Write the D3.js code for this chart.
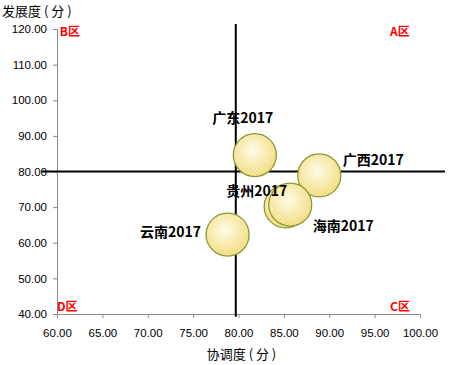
<!DOCTYPE html>
<html>
<head>
<meta charset="utf-8">
<script src="https://cdn.jsdelivr.net/npm/d3@7"></script>
<style>
  body { margin: 0; background: #fff; }
  text { font-family: "Noto Sans CJK SC", "Liberation Sans", sans-serif; }
</style>
</head>
<body>
<div id="chart-area"></div>
<script>
// data
const provinces = ['广东2017', '广西2017', '贵州2017', '海南2017', '云南2017'];
const coord = [81.8, 88.9, 85.2, 85.7, 78.8];     // 协调度
const develop = [84.6, 78.9, 70.2, 70.7, 62.3];   // 发展度
const xTicks = [60, 65, 70, 75, 80, 85, 90, 95, 100];
const yTicks = [40, 50, 60, 70, 80, 90, 100, 110, 120];
const zones = ['A区', 'B区', 'C区', 'D区'];
const crossX = 79.7, crossY = 80;

const margin = {left: 57, right: 33, top: 29, bottom: 51};
const width = 453 - margin.left - margin.right,
    height = 365 - margin.top - margin.bottom;

const svg = d3.select('#chart-area')
    .append('svg')
    .attr('width', 453)
    .attr('height', 365);

const defs = svg.append('defs');
const grad = defs.append('radialGradient').attr('id', 'bub')
    .attr('cx', '45%').attr('cy', '40%').attr('r', '60%');
grad.append('stop').attr('offset', '0%').attr('stop-color', '#fffbe4');
grad.append('stop').attr('offset', '100%').attr('stop-color', '#f2da78');

const pat = defs.append('pattern').attr('id', 'hatch')
    .attr('patternUnits', 'userSpaceOnUse')
    .attr('width', 3).attr('height', 3)
    .attr('patternTransform', 'rotate(45)');
pat.append('line').attr('x1', 0).attr('y1', 0).attr('x2', 0).attr('y2', 3)
    .attr('stroke', '#ffffff').attr('stroke-width', 1).attr('opacity', 0.55);

const g = svg.append('g')
    .attr('transform', 'translate(' + margin.left + ', ' + margin.top + ')');

const x = d3.scaleLinear().domain([60, 100]).range([0, width]);
const y = d3.scaleLinear().domain([40, 120]).range([height, 0]);

const xAxis = g.append('g')
    .attr('transform', 'translate(0, ' + height + ')')
    .call(d3.axisBottom(x).tickValues(xTicks).tickFormat(d3.format('.2f')).tickSizeOuter(0).tickSize(4));
const yAxis = g.append('g')
    .call(d3.axisLeft(y).tickValues(yTicks).tickFormat(d3.format('.2f')).tickSizeOuter(0).tickSize(4));

[xAxis, yAxis].forEach(a => {
    a.selectAll('path, line').attr('stroke', '#8c8c8c');
    a.selectAll('text').attr('font-size', '11.5px').attr('fill', '#000')
        .style('font-family', '"Liberation Sans", sans-serif');
});
xAxis.selectAll('text').attr('dy', '1.4em');
yAxis.selectAll('text').attr('x', -10);

// axis titles
svg.append('text')
    .attr('x', 2).attr('y', 16)
    .attr('font-size', '13px')
    .text('发展度 ( 分 )');
svg.append('text')
    .attr('x', margin.left + x(80) + 3).attr('y', 359)
    .attr('text-anchor', 'middle')
    .attr('font-size', '13px')
    .text('协调度 ( 分 )');

// cross lines
g.append('line')
    .attr('x1', x(58.35)).attr('x2', x(102.75))
    .attr('y1', y(crossY)).attr('y2', y(crossY))
    .attr('stroke', '#000').attr('stroke-width', 2);
g.append('line')
    .attr('x1', x(crossX)).attr('x2', x(crossX))
    .attr('y1', y(121.4)).attr('y2', y(39.2))
    .attr('stroke', '#000').attr('stroke-width', 2);

// bubbles
const data = provinces.map((p, i) => ({name: p, x: coord[i], y: develop[i]}));
data.forEach(d => {
    g.append('circle')
        .attr('cx', x(d.x)).attr('cy', y(d.y)).attr('r', 21.5)
        .attr('fill', 'url(#bub)')
        .attr('stroke', '#869a34').attr('stroke-width', 1.3);
    g.append('circle')
        .attr('cx', x(d.x)).attr('cy', y(d.y)).attr('r', 21)
        .attr('fill', 'url(#hatch)');
});

// labels
const labelPos = [[-12, -32], [54, -10], [-29, -10], [53, 26], [-57, 2]];
data.forEach((d, i) => {
    g.append('text')
        .attr('x', x(d.x) + labelPos[i][0])
        .attr('y', y(d.y) + labelPos[i][1])
        .attr('text-anchor', 'middle')
        .attr('font-size', '14px')
        .attr('font-weight', 'bold')
        .text(d.name);
});

// zone labels
const zonePos = [[96.7, 118], [60.3, 118], [96.7, 40.8], [60.0, 40.8]];
zones.forEach((z, i) => {
    g.append('text')
        .attr('x', x(zonePos[i][0])).attr('y', y(zonePos[i][1]))
        .attr('font-size', '12px')
        .attr('font-weight', 'bold')
        .attr('fill', '#ff0000')
        .text(z);
});
</script>
</body>
</html>
